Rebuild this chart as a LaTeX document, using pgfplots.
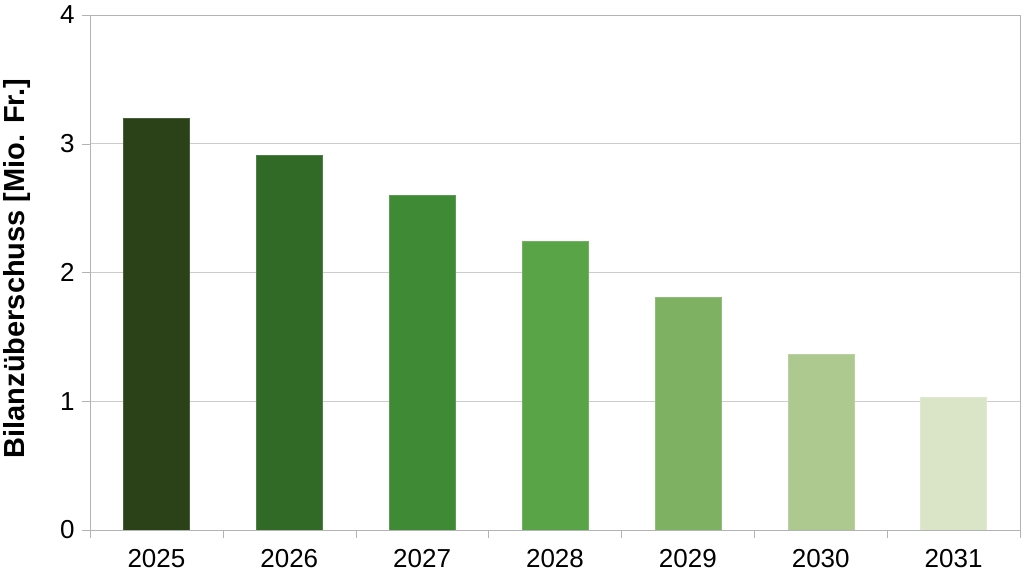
\documentclass[border=0pt]{standalone}
\usepackage{pgfplots}
\pgfplotsset{compat=1.18}
\usepackage{fontspec}
\setmainfont{Liberation Sans}
\definecolor{c1}{HTML}{2B4118}
\definecolor{c2}{HTML}{316A27}
\definecolor{c3}{HTML}{3F8B35}
\definecolor{c4}{HTML}{58A447}
\definecolor{c5}{HTML}{7EB162}
\definecolor{c6}{HTML}{ADC990}
\definecolor{c7}{HTML}{D9E5C6}
\definecolor{gridc}{HTML}{CCCCCC}
\definecolor{axc}{HTML}{B3B3B3}
\begin{document}
\begin{tikzpicture}[x=1pt,y=1pt]
\begin{axis}[
  at={(0,0)}, anchor=south west,
  scale only axis, width=930pt, height=515pt,
  xmin=-0.5, xmax=6.5, ymin=0, ymax=4,
  ybar, bar width=66pt, bar shift=0pt,
  xtick={0,...,6},
  xticklabels={2025,2026,2027,2028,2029,2030,2031},
  minor xtick={-0.5,0.5,...,6.5},
  ytick={0,1,2,3,4},
  xtick pos=bottom, ytick pos=left,
  tick align=outside,
  major tick length=8pt,
  x tick style={draw=none},
  minor x tick style={draw=axc},
  minor tick length=8pt,
  y tick style={draw=axc},
  ymajorgrids, grid style={draw=gridc, line width=0.8pt},
  axis line style={draw=axc, line width=0.8pt},
  ticklabel style={font=\fontsize{26}{30}\selectfont},
  /pgf/number format/assume math mode=true,
  xticklabel style={yshift=-8pt},
  yticklabel style={xshift=-4pt},
  ylabel={Bilanzüberschuss [Mio. Fr.]},
  every axis y label/.style={at={(axis description cs:0,0.5)}, rotate=90, anchor=center, yshift=73pt, xshift=4pt, font=\fontsize{29}{33}\selectfont\bfseries},
]
\addplot[fill=c1, draw=c1!85!white] coordinates {(0,3.20)};
\addplot[fill=c2, draw=c2!85!white] coordinates {(1,2.91)};
\addplot[fill=c3, draw=c3!85!white] coordinates {(2,2.60)};
\addplot[fill=c4, draw=c4!85!white] coordinates {(3,2.245)};
\addplot[fill=c5, draw=c5!85!white] coordinates {(4,1.81)};
\addplot[fill=c6, draw=c6!85!white] coordinates {(5,1.365)};
\addplot[fill=c7, draw=c7!85!white] coordinates {(6,1.035)};
\end{axis}
\pgfresetboundingbox
\useasboundingbox (-90,-42) rectangle (934,530);
\end{tikzpicture}
\end{document}
